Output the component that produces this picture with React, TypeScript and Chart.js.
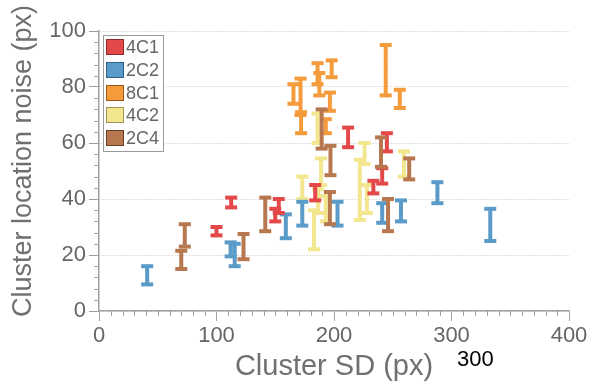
import React, { useEffect, useRef } from 'react';
import { Chart, registerables } from 'chart.js';

Chart.register(...registerables);

// ---- data ----
const seriesNames = ['4C1', '2C2', '8C1', '4C2', '2C4'];
const seriesColors = ['#e4494a', '#5b9bc9', '#f59b3b', '#f2e68f', '#b8784f'];
const legendEdges = ['#8f2a2a', '#2f5f85', '#9c5a18', '#9d9455', '#6a4025'];
const drawOrder = [2, 3, 4, 5, 1];

// 4C1
const x4C1 = [100, 112.5, 150, 153, 184, 212, 233.5, 241, 245];
const lo4C1 = [27, 37, 32, 35, 39.5, 58.5, 42, 45.5, 57];
const hi4C1 = [30, 40.5, 36.5, 40, 45, 65.5, 46.5, 51, 63.5];
// 2C2
const x2C2 = [41, 112, 115.5, 159, 173, 203, 241, 257, 288, 333];
const lo2C2 = [9.5, 19.5, 16, 26, 30.5, 30.5, 31.5, 32, 38.5, 25];
const hi2C2 = [16, 24.5, 24, 34.5, 39, 39, 38.5, 39.5, 46, 36.5];
// 8C1
const x8C1 = [165.5, 171.5, 172, 186, 187.5, 193, 196.5, 198, 244, 256];
const lo8C1 = [74, 70, 63.5, 81, 77, 63.5, 71.5, 83.5, 77, 72.5];
const hi8C1 = [81, 83, 71, 88.5, 85, 68.5, 78, 89.5, 95, 79];
// 4C2
const x4C2 = [173, 183, 186, 186.5, 189, 193, 222, 226, 228, 259.5];
const lo4C2 = [40, 22, 60, 35, 45, 32, 32.5, 52.5, 35, 48];
const hi4C2 = [48, 36, 70.5, 43.5, 54.5, 41, 54, 60, 45, 57];
// 2C4
const x2C4 = [70, 73, 123, 141.5, 189.5, 196.5, 197, 240, 246, 264];
const lo2C4 = [15, 23, 18.5, 28.5, 58, 31, 48.5, 51.5, 28.5, 47];
const hi2C4 = [21.5, 31, 27.5, 40.5, 72, 42.5, 59, 62, 40, 54.5];

const seriesX = [x4C1, x2C2, x8C1, x4C2, x2C4];
const seriesLo = [lo4C1, lo2C2, lo8C1, lo4C2, lo2C4];
const seriesHi = [hi4C1, hi2C2, hi8C1, hi4C2, hi2C4];

const xMin = 0, xMax = 400, xStep = 100, xMinorStep = 10;
const yMin = 0, yMax = 100, yStep = 20, yMinorStep = 4;
const xTitle = 'Cluster SD (px)';
const yTitle = 'Cluster location noise (px)';
const strayLabel = '300';

// ---- styles ----
const FONT = "'Liberation Sans', Arial, sans-serif";
const AXIS = '#a0a0a0';
const TICK = '#666666';
const TITLE = '#707070';

function errorPoints(xs: number[], lo: number[], hi: number[]) {
  const pts: any[] = [];
  xs.forEach((x, i) => {
    pts.push({ x, y: lo[i] }, { x, y: hi[i] }, { x, y: null });
  });
  return pts;
}

const minorTicks = {
  id: 'minorTicks',
  afterDraw(chart: any) {
    const { ctx, chartArea } = chart;
    const xs = chart.scales.x;
    const ys = chart.scales.y;
    ctx.save();
    ctx.strokeStyle = AXIS;
    ctx.lineWidth = 1;
    ctx.beginPath();
    for (let v = xMin; v <= xMax; v += xMinorStep) {
      if (v % xStep === 0) continue;
      const px = Math.round(xs.getPixelForValue(v)) + 0.5;
      ctx.moveTo(px, chartArea.bottom);
      ctx.lineTo(px, chartArea.bottom + 5);
    }
    for (let v = yMin; v <= yMax; v += yMinorStep) {
      if (v % yStep === 0) continue;
      const py = Math.round(ys.getPixelForValue(v)) + 0.5;
      ctx.moveTo(chartArea.left - 5, py);
      ctx.lineTo(chartArea.left, py);
    }
    ctx.stroke();
    ctx.restore();
  },
};

const boxLegend = {
  id: 'boxLegend',
  afterDatasetsDraw(chart: any) {
    const { ctx, chartArea } = chart;
    const x0 = chartArea.left + 4;
    const y0 = chartArea.top + 4;
    const rowH = 22.75;
    const w = 60;
    const h = 116;
    ctx.save();
    ctx.fillStyle = '#ffffff';
    ctx.fillRect(x0, y0, w, h);
    ctx.strokeStyle = '#9a9a9a';
    ctx.lineWidth = 1;
    ctx.strokeRect(x0 + 0.5, y0 + 0.5, w, h);
    ctx.font = `18px ${FONT}`;
    ctx.textBaseline = 'middle';
    ctx.textAlign = 'left';
    seriesNames.forEach((name, i) => {
      const y = Math.round(y0 + 4 + i * rowH);
      ctx.fillStyle = seriesColors[i];
      ctx.fillRect(x0 + 3, y, 18, 16);
      ctx.strokeStyle = legendEdges[i];
      ctx.strokeRect(x0 + 3.5, y + 0.5, 17, 15);
      ctx.fillStyle = TICK;
      ctx.fillText(name, x0 + 23, y + 9);
    });
    ctx.restore();
  },
};

// y-axis title, drawn slightly above the plot's vertical centre as in the reference
const yAxisTitle = {
  id: 'yAxisTitle',
  afterDraw(chart: any) {
    const { ctx, chartArea } = chart;
    ctx.save();
    ctx.translate(24, (chartArea.top + chartArea.bottom) / 2 - 10);
    ctx.rotate(-Math.PI / 2);
    ctx.font = `27px ${FONT}`;
    ctx.fillStyle = TITLE;
    ctx.textAlign = 'center';
    ctx.textBaseline = 'middle';
    ctx.fillText(yTitle, 0, 0);
    ctx.restore();
  },
};

const strayText = {
  id: 'strayText',
  afterDraw(chart: any) {
    const { ctx } = chart;
    ctx.save();
    ctx.font = `22px ${FONT}`;
    ctx.fillStyle = '#000000';
    ctx.textAlign = 'left';
    ctx.textBaseline = 'alphabetic';
    ctx.fillText(strayLabel, 457, 366);
    ctx.restore();
  },
};

export default function App() {
  const ref = useRef<HTMLCanvasElement | null>(null);

  useEffect(() => {
    if (!ref.current) return;
    const datasets = seriesNames.map((name, i) => ({
      type: 'scatter' as const,
      label: name,
      data: errorPoints(seriesX[i], seriesLo[i], seriesHi[i]),
      showLine: true,
      spanGaps: false,
      borderColor: seriesColors[i],
      backgroundColor: seriesColors[i],
      borderWidth: 4,
      borderCapStyle: 'butt' as const,
      pointStyle: 'line' as const,
      pointRadius: 6,
      pointHoverRadius: 6,
      pointBorderWidth: 4,
      pointBorderColor: seriesColors[i],
      order: drawOrder[i],
    }));

    const chart = new Chart(ref.current, {
      type: 'scatter',
      data: { datasets },
      options: {
        animation: false,
        responsive: true,
        maintainAspectRatio: false,
        devicePixelRatio: 1,
        layout: { padding: { top: 31, right: 31, left: 0, bottom: 0 } },
        plugins: {
          legend: { display: false },
          tooltip: { enabled: false },
        },
        scales: {
          x: {
            type: 'linear',
            min: xMin,
            max: xMax,
            offset: false,
            ticks: {
              stepSize: xStep,
              color: TICK,
              font: { family: FONT, size: 22 },
              padding: 2,
              maxRotation: 0,
            },
            grid: { drawOnChartArea: false, tickLength: 10, tickColor: AXIS, tickWidth: 1 },
            border: { color: AXIS, width: 1.5 },
            title: {
              display: true,
              text: xTitle,
              color: TITLE,
              font: { family: FONT, size: 29 },
              padding: { top: 0, bottom: 0 },
            },
            afterFit(scale: any) {
              scale.height = 73;
            },
          },
          y: {
            type: 'linear',
            min: yMin,
            max: yMax,
            ticks: {
              stepSize: yStep,
              color: TICK,
              font: { family: FONT, size: 22 },
              padding: 3,
            },
            grid: { color: '#c2c2c2', lineWidth: 1, tickLength: 10, tickColor: AXIS, tickWidth: 1 },
            border: { color: AXIS, width: 1.5, dash: [1, 2] },
            title: { display: false, text: yTitle },
            afterFit(scale: any) {
              scale.width = 99;
            },
          },
        },
      },
      plugins: [minorTicks, boxLegend, yAxisTitle, strayText],
    } as any);
    return () => chart.destroy();
  }, []);

  return (
    <div style={{ position: 'fixed', left: 0, top: 0, width: 600, height: 384, background: '#fff' }}>
      <canvas ref={ref} />
    </div>
  );
}
